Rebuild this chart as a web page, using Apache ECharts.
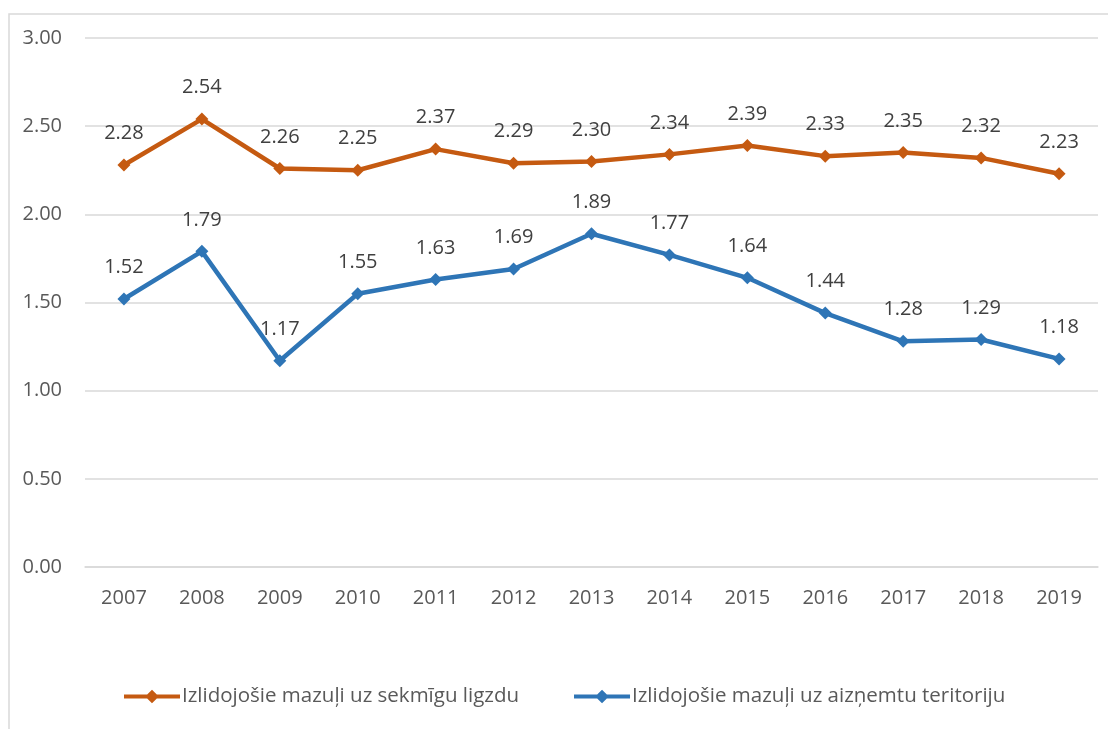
<!DOCTYPE html>
<html>
<head>
<meta charset="utf-8">
<script src="https://cdn.jsdelivr.net/npm/echarts@6/dist/echarts.min.js"></script>
<style>
  html, body { margin: 0; padding: 0; background: #fff; }
  #chart { width: 1108px; height: 729px; }
</style>
</head>
<body>
<div id="chart"></div>
<script>
var years = ['2007', '2008', '2009', '2010', '2011', '2012', '2013', '2014', '2015', '2016', '2017', '2018', '2019'];
var perNest = [2.28, 2.54, 2.26, 2.25, 2.37, 2.29, 2.30, 2.34, 2.39, 2.33, 2.35, 2.32, 2.23];
var perTerritory = [1.52, 1.79, 1.17, 1.55, 1.63, 1.69, 1.89, 1.77, 1.64, 1.44, 1.28, 1.29, 1.18];
var nameNest = 'Izlidojošie mazuļi uz sekmīgu ligzdu';
var nameTerritory = 'Izlidojošie mazuļi uz aizņemtu teritoriju';

var myChart = echarts.init(document.getElementById('chart'));
var font = '"Open Sans", "Noto Sans", sans-serif';
// line with a diamond in the middle, used as legend icon
var legendIcon = 'path://M0,5 L24,5 L29,0 L34,5 L58,5 L58,9 L34,9 L29,14 L24,9 L0,9 Z';

function lineSeries(name, data, color) {
    return {
        name: name,
        type: 'line',
        data: data,
        symbol: 'diamond',
        symbolSize: 13,
        lineStyle: { width: 4.5, color: color },
        itemStyle: { color: color },
        label: {
            show: true,
            position: 'top',
            distance: 15,
            color: '#404040',
            fontSize: 20,
            fontFamily: font,
            formatter: function (p) { return p.value.toFixed(2); }
        }
    };
}

var option = {
    backgroundColor: '#fff',
    animation: false,
    graphic: [{
        type: 'rect',
        shape: { x: 9, y: 14, width: 1200, height: 800 },
        style: { fill: 'none', stroke: '#d9d9d9', lineWidth: 1.5 },
        silent: true
    }],
    grid: { left: 85, right: 10, top: 38, height: 529 },
    legend: {
        bottom: 17,
        left: 119,
        itemGap: 55,
        itemWidth: 56,
        itemHeight: 14,
        textStyle: { color: '#595959', fontSize: 20.5, fontFamily: font, padding: [0, 0, 0, -3] },
        data: [
            { name: nameNest, icon: legendIcon },
            { name: nameTerritory, icon: legendIcon }
        ]
    },
    xAxis: {
        type: 'category',
        data: years,
        axisLine: { lineStyle: { color: '#d9d9d9', width: 1.5 } },
        axisTick: { show: false },
        axisLabel: { color: '#595959', fontSize: 20, fontFamily: font, margin: 21 }
    },
    yAxis: {
        type: 'value',
        min: 0,
        max: 3,
        interval: 0.5,
        axisLine: { show: false },
        axisTick: { show: false },
        splitLine: { lineStyle: { color: '#d9d9d9', width: 1.5 } },
        axisLabel: {
            color: '#595959', fontSize: 20, fontFamily: font, margin: 23,
            formatter: function (v) { return v.toFixed(2); }
        }
    },
    series: [
        lineSeries(nameNest, perNest, '#c55a11'),
        lineSeries(nameTerritory, perTerritory, '#2e75b6')
    ]
};
myChart.setOption(option);
</script>
</body>
</html>
